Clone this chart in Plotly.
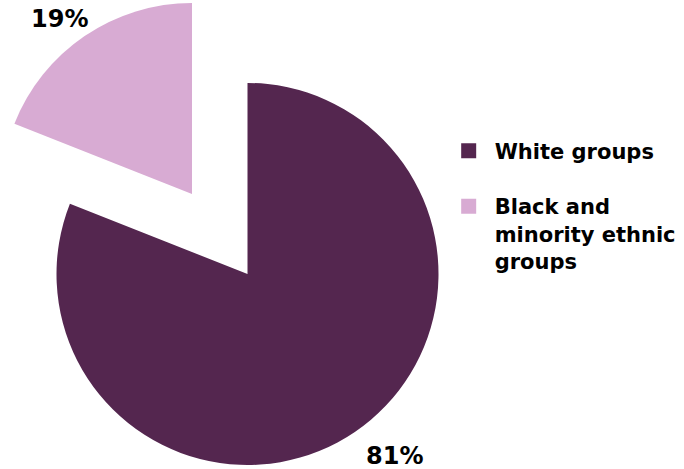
import math
import plotly.graph_objects as go

# Share of population by ethnic group
labels = ["White groups", "Black and<br>minority ethnic<br>groups"]
values = [81, 19]
colors = ["#54264f", "#d8abd3"]
clear = "rgba(0,0,0,0)"

W, H = 684, 469
font_family = "DejaVu Sans"
label_font = dict(family=font_family, size=24, color="black", weight="bold")

# Pie geometry in pixels: radius, centre of the main body, centre of the exploded slice
R = 191
main_c = (247.5, 274)
pulled_c = (192, 194)

# Percentage label placement: distance (in radii) and angular nudge (degrees)
label_dist = [1.225, 1.15]
label_nudge = [-4.7, -2.8]


def domain_for(c):
    cx, cy = c
    return dict(
        x=[max(0.0, (cx - R) / W), min(1.0, (cx + R) / W)],
        y=[max(0.0, (H - cy - R) / H), min(1.0, (H - cy + R) / H)],
    )


fig = go.Figure()

# Main body of the pie: the white-groups slice, with the other slice left empty
fig.add_trace(go.Pie(
    labels=labels, values=values, sort=False,
    direction="clockwise", rotation=0,
    marker=dict(colors=[colors[0], clear], line=dict(width=0)),
    textinfo="none",
    domain=domain_for(main_c),
    showlegend=False, hoverinfo="skip",
))

# The exploded slice, drawn from a pie whose centre is shifted up and left
fig.add_trace(go.Pie(
    labels=labels, values=values, sort=False,
    direction="clockwise", rotation=0,
    marker=dict(colors=[clear, colors[1]], line=dict(width=0)),
    textinfo="none",
    domain=domain_for(pulled_c),
    showlegend=False, hoverinfo="skip",
))

# Percentage labels placed just outside each slice, along its mid-angle
total = sum(values)
start = 0.0
for v, c, dist, nudge in zip(values, [main_c, pulled_c], label_dist, label_nudge):
    frac = v / total
    mid = (start + frac / 2) * 360 + nudge  # degrees clockwise from 12 o'clock
    start += frac
    d = dist * R
    px = c[0] + d * math.sin(math.radians(mid))
    py = c[1] - d * math.cos(math.radians(mid))
    fig.add_annotation(
        x=px / W, y=1 - py / H, xref="paper", yref="paper",
        text=f"{round(frac * 100)}%", showarrow=False,
        font=label_font, xanchor="center", yanchor="middle",
    )

# Legend entries
for i, (lab, col) in enumerate(zip(labels, colors)):
    fig.add_trace(go.Scatter(
        x=[None], y=[None], mode="markers", name=lab,
        marker=dict(symbol="square", size=15, color=col),
        legendgroup=f"g{i}", showlegend=True, hoverinfo="skip",
    ))

fig.update_layout(
    width=W, height=H,
    margin=dict(l=0, r=0, t=0, b=0),
    paper_bgcolor="white", plot_bgcolor="white",
    xaxis=dict(visible=False), yaxis=dict(visible=False),
    showlegend=True,
    legend=dict(
        x=0.6472, y=0.7213, xanchor="left", yanchor="top",
        font=dict(family=font_family, size=21, color="black", weight="bold"),
        tracegroupgap=25, itemwidth=42, valign="top",
        bgcolor="rgba(0,0,0,0)",
        itemclick=False, itemdoubleclick=False,
    ),
)

fig.write_html("out.html")
